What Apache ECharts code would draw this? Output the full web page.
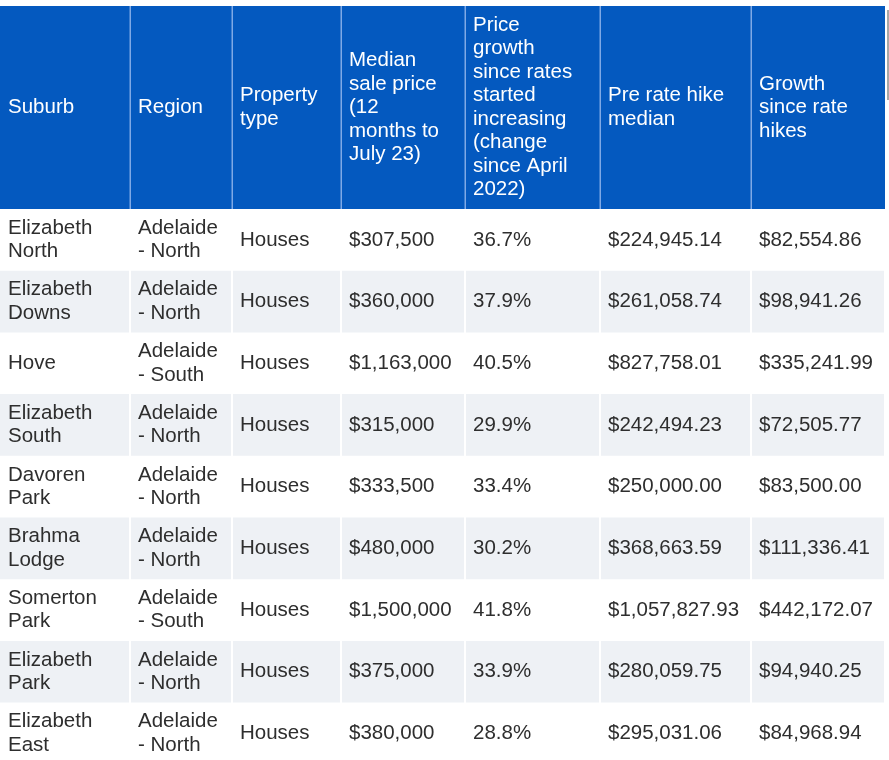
<!DOCTYPE html>
<html>
<head>
<meta charset="utf-8">
<script src="https://cdn.jsdelivr.net/npm/echarts@6/dist/echarts.min.js"></script>
<style>
html,body{margin:0;padding:0;background:#fff;}
#chart{width:889px;height:760px;}
</style>
</head>
<body>
<div id="chart"></div>
<script>
// ---- data ----
var headers = [
  'Suburb',
  'Region',
  'Property\ntype',
  'Median\nsale price\n(12\nmonths to\nJuly 23)',
  'Price\ngrowth\nsince rates\nstarted\nincreasing\n(change\nsince April\n2022)',
  'Pre rate hike\nmedian',
  'Growth\nsince rate\nhikes'
];
var suburbs = ['Elizabeth North','Elizabeth Downs','Hove','Elizabeth South','Davoren Park','Brahma Lodge','Somerton Park','Elizabeth Park','Elizabeth East'];
var regions = ['Adelaide - North','Adelaide - North','Adelaide - South','Adelaide - North','Adelaide - North','Adelaide - North','Adelaide - South','Adelaide - North','Adelaide - North'];
var propertyTypes = ['Houses','Houses','Houses','Houses','Houses','Houses','Houses','Houses','Houses'];
var medianPrice = [307500,360000,1163000,315000,333500,480000,1500000,375000,380000];
var priceGrowthPct = [36.7,37.9,40.5,29.9,33.4,30.2,41.8,33.9,28.8];
var preHikeMedian = [224945.14,261058.74,827758.01,242494.23,250000.00,368663.59,1057827.93,280059.75,295031.06];
var growthSinceHikes = [82554.86,98941.26,335241.99,72505.77,83500.00,111336.41,442172.07,94940.25,84968.94];

// ---- layout (page units) ----
var colEdges = [0,130,232,341,465,600,751,885];
var headerTop = 6, headerBottom = 209, rowHeight = 61.7;
var FONT = '20.5px "Liberation Sans", Arial, sans-serif';
var BLUE = '#0459BF', GRAY = '#EEF1F5', TEXT = '#2E2E2E';

function money0(v){ return '$' + v.toLocaleString('en-US', {maximumFractionDigits:0}); }
function money2(v){ return '$' + v.toLocaleString('en-US', {minimumFractionDigits:2, maximumFractionDigits:2}); }
function pct(v){ return v.toFixed(1) + '%'; }

var bodyData = [];
for (var r = 0; r < suburbs.length; r++) {
  var cells = [suburbs[r], regions[r], propertyTypes[r], money0(medianPrice[r]), pct(priceGrowthPct[r]), money2(preHikeMedian[r]), money2(growthSinceHikes[r])];
  for (var c = 0; c < cells.length; c++) bodyData.push([c, r, cells[c]]);
}
var headerData = headers.map(function(h, i){ return [i, 0, h]; });

var chart = echarts.init(document.getElementById('chart'), null, {renderer:'canvas'});

function renderHeader(params, api) {
  var c = api.value(0);
  var p0 = api.coord([colEdges[c], headerTop]);
  var p1 = api.coord([colEdges[c+1], headerBottom]);
  var children = [{
    type:'rect',
    shape:{x:p0[0], y:p0[1], width:p1[0]-p0[0], height:p1[1]-p0[1]},
    style:{fill:BLUE}
  }];
  if (c > 0) {
    children.push({type:'rect', shape:{x:p0[0]-0.5, y:p0[1], width:1.5, height:p1[1]-p0[1]}, style:{fill:'#7FA9E6'}});
  }
  children.push({
    type:'text',
    style:{
      text: headerData[c][2], x: p0[0] + 8, y: (p0[1]+p1[1])/2,
      fill:'#ffffff', font: FONT, lineHeight: 23.5,
      align:'left', verticalAlign:'middle'
    }
  });
  return {type:'group', children:children};
}

function renderBody(params, api) {
  var c = api.value(0), r = api.value(1);
  var y0 = headerBottom + r*rowHeight, y1 = y0 + rowHeight;
  var p0 = api.coord([colEdges[c], y0]);
  var p1 = api.coord([colEdges[c+1], y1]);
  var children = [];
  if (r % 2 === 1) {
    var left = c === 0 ? p0[0] : p0[0] + 1;
    children.push({
      type:'rect',
      shape:{x:left, y:p0[1], width:p1[0]-1-left, height:p1[1]-p0[1]},
      style:{fill:GRAY}
    });
  }
  children.push({
    type:'text',
    style:{
      text: bodyData[params.dataIndex][2], x: p0[0] + 8, y: (p0[1]+p1[1])/2,
      fill:TEXT, font: FONT, lineHeight: 23.5,
      width: (c < 2 ? (p1[0]-p0[0]) - 14 : 400), overflow: c < 2 ? 'break' : 'none',
      align:'left', verticalAlign:'middle'
    }
  });
  return {type:'group', children:children};
}

chart.setOption({
  animation:false,
  backgroundColor:'#ffffff',
  grid:{left:0, right:0, top:0, bottom:0},
  xAxis:{type:'value', min:0, max:889, show:false},
  yAxis:{type:'value', min:0, max:760, inverse:true, show:false},
  series:[
    {type:'custom', renderItem:renderHeader, data:headerData, clip:false, silent:true},
    {type:'custom', renderItem:renderBody, data:bodyData, clip:true, silent:true},
    {type:'line', data:[[888,10],[888,100]], symbol:'none', lineStyle:{color:'#8a8a8a', width:1.5}, silent:true}
  ]
});
</script>
</body>
</html>
